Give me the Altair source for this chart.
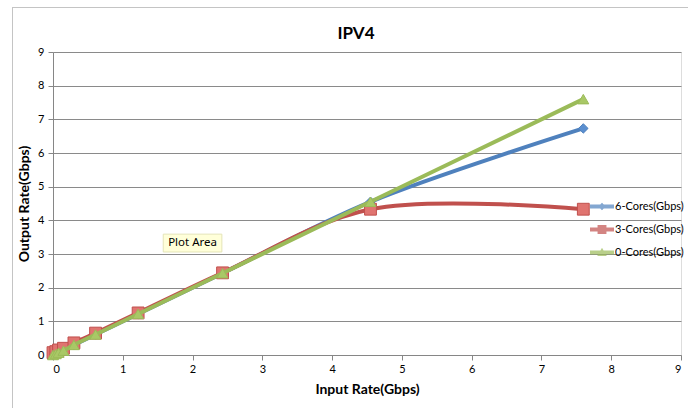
import altair as alt
import pandas as pd

# ---- data ----
input_rate = [0.0, 0.04, 0.08, 0.15, 0.3, 0.61, 1.22, 2.43, 4.55, 7.6]
cores6 = [0.0, 0.04, 0.08, 0.15, 0.3, 0.61, 1.22, 2.43, 4.55, 6.73]
cores3 = [0.07, 0.1, 0.15, 0.2, 0.36, 0.65, 1.25, 2.44, 4.33, 4.33]
cores0 = [0.0, 0.03, 0.07, 0.13, 0.3, 0.61, 1.22, 2.43, 4.55, 7.6]
series_names = ["6-Cores(Gbps)", "3-Cores(Gbps)", "0-Cores(Gbps)"]
axis_ticks = [0, 1, 2, 3, 4, 5, 6, 7, 8, 9]

# ---- styles ----
line_colors = ["#4F81BD", "#C0504D", "#9BBB59"]
marker_fill = ["#5B8FD0", "#E07470", "#A9C866"]
marker_shapes = ["diamond", "square", "triangle-up"]
marker_sizes = [90, 140, 120]
legend_paths = [
    "M-1,-0.17L1,-0.17L1,0.17L-1,0.17Z M0,-0.32L0.32,0L0,0.32L-0.32,0Z",
    "M-1,-0.17L1,-0.17L1,0.17L-1,0.17Z M-0.37,-0.37L0.37,-0.37L0.37,0.37L-0.37,0.37Z",
    "M-1,-0.17L1,-0.17L1,0.17L-1,0.17Z M0,-0.4L0.4,0.3L-0.4,0.3Z",
]
FONT = "Lato"

rows = []
for name, vals in zip(series_names, [cores6, cores3, cores0]):
    for i, (xv, yv) in enumerate(zip(input_rate, vals)):
        rows.append({"series": name, "idx": i, "input": xv, "output": yv})
df = pd.DataFrame(rows)

xscale = alt.Scale(domain=[0, 9], nice=False, zero=True)
yscale = alt.Scale(domain=[0, 9], nice=False, zero=True)

xaxis = alt.Axis(values=axis_ticks, format="d", title="Input Rate(Gbps)", grid=False,
                 domainColor="#868686", tickColor="#868686", tickSize=5,
                 labelFont=FONT, labelFontSize=11, labelColor="#000000",
                 labelPadding=3, titleFont=FONT, titleFontSize=14,
                 titleFontWeight="bold", titleColor="#000000", titlePadding=8)
yaxis = alt.Axis(values=axis_ticks, format="d", title="Output Rate(Gbps)", grid=True,
                 gridColor="#8a8a8a", gridWidth=1,
                 domainColor="#868686", tickColor="#868686", tickSize=5,
                 labelFont=FONT, labelFontSize=11, labelColor="#000000",
                 labelPadding=4, titleFont=FONT, titleFontSize=14,
                 titleFontWeight="bold", titleColor="#000000", titlePadding=6)


def xe(field):
    return alt.X(field, scale=xscale, axis=xaxis)


def ye(field):
    return alt.Y(field, scale=yscale, axis=yaxis)


layers = []
for k, name in enumerate(series_names):
    base = alt.Chart(df).transform_filter(alt.datum.series == name)
    line = base.mark_line(
        interpolate="catmull-rom", strokeWidth=4, color=line_colors[k]
    ).encode(x=xe("input:Q"), y=ye("output:Q"), order="idx:Q")
    pts = base.mark_point(
        filled=True, shape=marker_shapes[k], size=marker_sizes[k],
        fill=marker_fill[k], stroke=line_colors[k], strokeWidth=1, opacity=1
    ).encode(x=xe("input:Q"), y=ye("output:Q"))
    layers += [line, pts]

# legend-only layer (no marks drawn)
legend_layer = alt.Chart(df).transform_filter("false").mark_point(filled=True).encode(
    x=xe("input:Q"), y=ye("output:Q"),
    color=alt.Color("series:N", scale=alt.Scale(domain=series_names, range=line_colors),
                    legend=alt.Legend(title=None, orient="none", legendX=537,
                                      legendY=143, symbolSize=576,
                                      symbolStrokeWidth=0, clipHeight=23,
                                      rowPadding=0, labelOffset=1, padding=0,
                                      labelFont=FONT, labelFontSize=11,
                                      labelColor="#000000")),
    shape=alt.Shape("series:N", scale=alt.Scale(domain=series_names, range=legend_paths)),
)

# "Plot Area" tooltip
tip_df = pd.DataFrame({"x1": [1.58], "x2": [2.42], "y1": [3.06], "y2": [3.59],
                       "tx": [1.65], "ty": [3.32], "label": ["Plot Area"]})
tip_box = alt.Chart(tip_df).mark_rect(fill="#FFFFD9", stroke="#E4E4B8", strokeWidth=1).encode(
    x=xe("x1:Q"), x2="x2:Q", y=ye("y1:Q"), y2="y2:Q")
tip_text = alt.Chart(tip_df).mark_text(align="left", baseline="middle", font="Noto Sans",
                                       fontSize=11.5, color="#000000").encode(
    x=xe("tx:Q"), y=ye("ty:Q"), text="label:N")

# chart frame (Excel chart border)
frame_top = alt.Chart(tip_df).mark_rule(color="#c4c4c4", strokeWidth=1).encode(
    x=alt.value(-41), x2=alt.value(640), y=alt.value(-44.5))
frame_left = alt.Chart(tip_df).mark_rule(color="#c4c4c4", strokeWidth=1).encode(
    x=alt.value(-40.5), y=alt.value(-45), y2=alt.value(360))

chart = alt.layer(
    frame_top, frame_left, *layers, legend_layer, tip_box, tip_text
).properties(
    width=628, height=303,
    title=alt.TitleParams("IPV4", font=FONT, fontSize=17, fontWeight="bold",
                          color="#000000", anchor="middle", dx=-11, offset=-36,
                          frame="group"),
    padding={"left": 53, "top": 52, "right": 7, "bottom": 53},
    autosize=alt.AutoSizeParams(type="none"),
).configure_view(stroke=None).configure(background="#ffffff")

chart.save("out.html", embed_options={"renderer": "svg", "actions": False})
